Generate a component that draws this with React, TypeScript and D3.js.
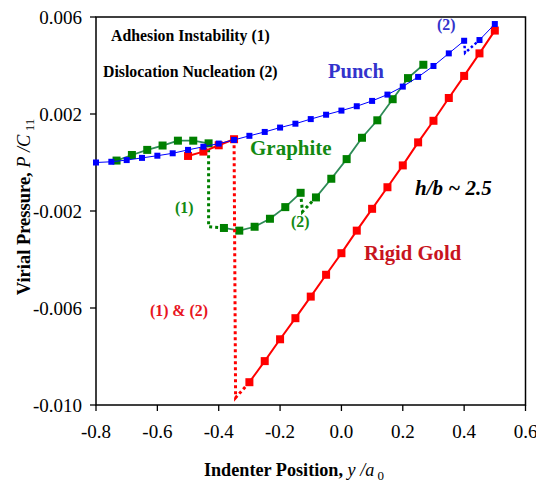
import React from "react";
import * as d3 from "d3";

// ---- data ----
const punchX = [-0.8, -0.75, -0.7, -0.65, -0.6, -0.55, -0.5, -0.45, -0.4, -0.35, -0.3, -0.25, -0.2, -0.15, -0.1, -0.05, 0.0, 0.05, 0.1, 0.15, 0.2, 0.25, 0.3, 0.35, 0.4];
const punchY = [0.0, 0.00003, 0.0001, 0.00019, 0.00028, 0.00038, 0.00052, 0.00065, 0.00078, 0.00093, 0.0011, 0.00126, 0.00144, 0.0016, 0.00179, 0.00197, 0.00214, 0.00232, 0.00254, 0.0028, 0.00313, 0.00353, 0.00398, 0.0045, 0.00502];
const punchX2 = [0.45, 0.5];
const punchY2 = [0.00505, 0.00571];

const graphiteX1 = [-0.733, -0.683, -0.633, -0.583, -0.533, -0.483, -0.433];
const graphiteY1 = [0.00008, 0.00031, 0.00052, 0.0007, 0.0009, 0.0009, 0.00079];
const graphiteX2 = [-0.383, -0.333, -0.283, -0.233, -0.183, -0.133];
const graphiteY2 = [-0.0027, -0.00281, -0.00265, -0.00232, -0.00184, -0.00125];
const graphiteX3 = [-0.083, -0.033, 0.017, 0.067, 0.117, 0.167, 0.217, 0.267];
const graphiteY3 = [-0.00144, -0.00067, 0.00014, 0.00102, 0.00174, 0.00261, 0.00348, 0.00403];

const goldX1 = [-0.5, -0.45, -0.4, -0.35];
const goldY1 = [0.00027, 0.00045, 0.00071, 0.00096];
const goldX2 = [-0.3, -0.25, -0.2, -0.15, -0.1, -0.05, 0.0, 0.05, 0.1, 0.15, 0.2, 0.25, 0.3, 0.35, 0.4, 0.45, 0.5];
const goldY2 = [-0.00906, -0.00819, -0.00729, -0.00642, -0.00553, -0.00463, -0.00374, -0.00281, -0.00191, -0.00102, -0.00012, 0.00083, 0.00172, 0.00266, 0.00357, 0.0045, 0.00544];

// dotted transitions
const punchJumpX = [0.4, 0.403, 0.45];
const punchJumpY = [0.00502, 0.00452, 0.00505];
const graphiteJump1X = [-0.433, -0.433, -0.383];
const graphiteJump1Y = [0.00079, -0.00265, -0.0027];
const graphiteJump2X = [-0.133, -0.127, -0.083];
const graphiteJump2Y = [-0.00125, -0.00203, -0.00144];
const goldJumpX = [-0.35, -0.345, -0.3];
const goldJumpY = [0.00096, -0.0097, -0.00906];

const xTicks = [-0.8, -0.6, -0.4, -0.2, 0.0, 0.2, 0.4, 0.6];
const xTickLabels = ["-0.8", "-0.6", "-0.4", "-0.2", "0.0", "0.2", "0.4", "0.6"];
const yTicks = [0.006, 0.002, -0.002, -0.006, -0.01];
const yTickLabels = ["0.006", "0.002", "-0.002", "-0.006", "-0.010"];

const zip = (xs: number[], ys: number[]) => xs.map((x, i) => [x, ys[i]] as [number, number]);

export default function App() {
  const x = d3.scaleLinear().domain([-0.8, 0.6]).range([96, 525.5]);
  const y = d3.scaleLinear().domain([-0.01, 0.006]).range([405, 17]);
  const line = d3.line<[number, number]>().x((d) => x(d[0])).y((d) => y(d[1]));

  const BLUE = "#0000ff";
  const GREEN_LINE = "#2e8b57";
  const GREEN = "#008000";
  const RED = "#ff0000";
  const serif = "'Liberation Serif', 'Times New Roman', serif";

  const markers = (pts: [number, number][], size: number, fill: string, key: string) =>
    pts.map((p, i) => (
      <rect key={key + i} x={x(p[0]) - size / 2} y={y(p[1]) - size / 2} width={size} height={size} fill={fill} />
    ));

  const g1 = zip(graphiteX1, graphiteY1);
  const g2 = zip(graphiteX2, graphiteY2);
  const g3 = zip(graphiteX3, graphiteY3);
  const r1 = zip(goldX1, goldY1);
  const r2 = zip(goldX2, goldY2);
  const b1 = zip(punchX, punchY);
  const b2 = zip(punchX2, punchY2);

  return (
    <svg width={536} height={485} style={{ position: "absolute", left: 0, top: 0, background: "#fff" }} fontFamily={serif}>
      <rect x={0} y={0} width={536} height={485} fill="#fff" />
      {/* frame */}
      <rect x={96} y={17} width={525.5 - 96} height={405 - 17} fill="none" stroke="#000" strokeWidth={1.5} />
      {/* x ticks */}
      {xTicks.map((t, i) => (
        <g key={"xt" + t}>
          <line x1={x(t)} x2={x(t)} y1={405} y2={411} stroke="#000" strokeWidth={1.3} />
          <text x={x(t)} y={438} fontSize={19} textAnchor="middle" fill="#000">
            {xTickLabels[i]}
          </text>
        </g>
      ))}
      {/* y ticks */}
      {yTicks.map((t, i) => (
        <g key={"yt" + t}>
          <line x1={90} x2={96} y1={y(t)} y2={y(t)} stroke="#000" strokeWidth={1.3} />
          <text x={82} y={y(t) + 6.5} fontSize={19} textAnchor="end" fill="#000">
            {yTickLabels[i]}
          </text>
        </g>
      ))}

      {/* graphite */}
      <path d={line(g1) || ""} fill="none" stroke={GREEN_LINE} strokeWidth={1.8} />
      <path d={line(g2) || ""} fill="none" stroke={GREEN_LINE} strokeWidth={1.8} />
      <path d={line(g3) || ""} fill="none" stroke={GREEN_LINE} strokeWidth={1.8} />
      <path d={line(zip(graphiteJump1X, graphiteJump1Y)) || ""} fill="none" stroke={GREEN} strokeWidth={3} strokeDasharray="3,3" />
      <path d={line(zip(graphiteJump2X, graphiteJump2Y)) || ""} fill="none" stroke={GREEN} strokeWidth={3} strokeDasharray="3,3" />
      {markers(g1, 8, GREEN, "g1")}
      {markers(g2, 8, GREEN, "g2")}
      {markers(g3, 8, GREEN, "g3")}

      {/* rigid gold */}
      <path d={line(r1) || ""} fill="none" stroke={RED} strokeWidth={2} />
      <path d={line(r2) || ""} fill="none" stroke={RED} strokeWidth={2} />
      <path d={line(zip(goldJumpX, goldJumpY)) || ""} fill="none" stroke={RED} strokeWidth={3} strokeDasharray="3,3" />
      {markers(r1, 8, RED, "r1")}
      {markers(r2, 8, RED, "r2")}

      {/* punch */}
      <path d={line(b1) || ""} fill="none" stroke={BLUE} strokeWidth={1} />
      <path d={line(b2) || ""} fill="none" stroke={BLUE} strokeWidth={1} />
      <path d={line(zip(punchJumpX, punchJumpY)) || ""} fill="none" stroke={BLUE} strokeWidth={2.5} strokeDasharray="2.5,2.5" />
      {markers(b1, 6, BLUE, "b1")}
      {markers(b2, 6, BLUE, "b2")}

      {/* annotations */}
      <text x={111} y={41} fontSize={15.8} fontWeight="bold" fill="#000">Adhesion Instability (1)</text>
      <text x={103} y={77} fontSize={15.8} fontWeight="bold" fill="#000">Dislocation Nucleation (2)</text>
      <text x={328} y={78} fontSize={20.5} fontWeight="bold" fill="#3333cc">Punch</text>
      <text x={437} y={30} fontSize={15.8} fontWeight="bold" fill="#3333cc">(2)</text>
      <text x={250} y={155} fontSize={21} fontWeight="bold" fill="#138a13">Graphite</text>
      <text x={175} y={213} fontSize={15.8} fontWeight="bold" fill="#138a13">(1)</text>
      <text x={291} y={227} fontSize={15.8} fontWeight="bold" fill="#138a13">(2)</text>
      <text x={415} y={195} fontSize={21} fontWeight="bold" fontStyle="italic" fill="#000">h/b ~ 2.5</text>
      <text x={364} y={260} fontSize={20.7} fontWeight="bold" fill="#c8141e">Rigid Gold</text>
      <text x={150} y={316} fontSize={15.8} fontWeight="bold" fill="#e8141e">(1) &amp; (2)</text>

      {/* axis titles */}
      <text x={294} y={476} fontSize={18.2} textAnchor="middle" fill="#000">
        <tspan fontWeight="bold">Indenter Position, </tspan>
        <tspan fontStyle="italic">y /a</tspan>
        <tspan fontSize={13} dy={4}> 0</tspan>
      </text>
      <text transform="translate(30,207) rotate(-90)" fontSize={18.5} textAnchor="middle" fill="#000">
        <tspan fontWeight="bold">Virial Pressure, </tspan>
        <tspan fontStyle="italic">P /C</tspan>
        <tspan fontSize={13} dy={4}> 11</tspan>
      </text>
    </svg>
  );
}
